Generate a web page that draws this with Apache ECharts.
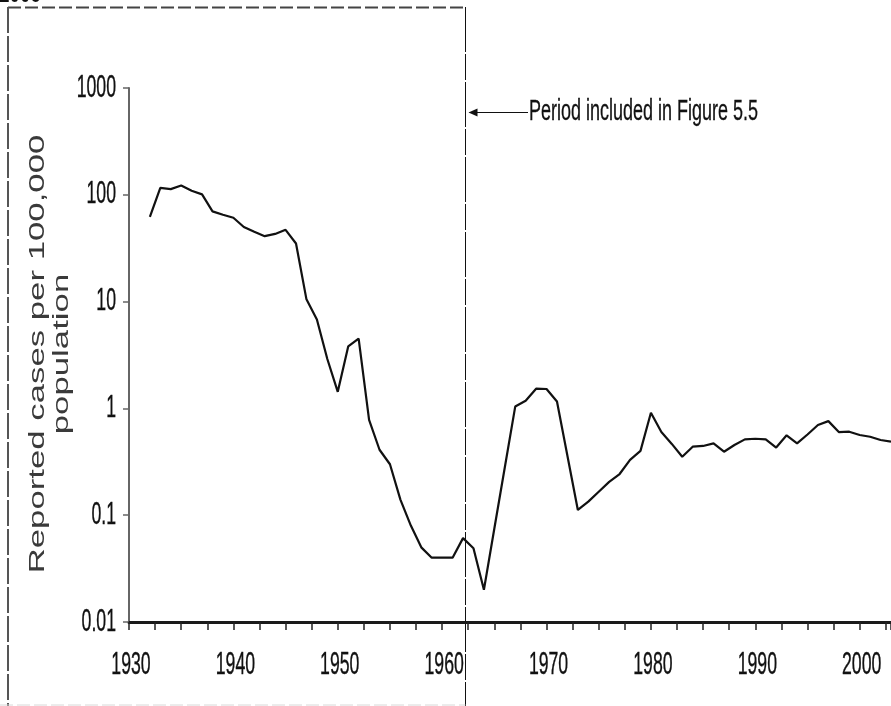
<!DOCTYPE html>
<html><head><meta charset="utf-8">
<script src="https://cdn.jsdelivr.net/npm/echarts@6/dist/echarts.min.js"></script>
<style>html,body{margin:0;padding:0;background:#fff;overflow:hidden}#c{width:891px;height:706px}</style>
</head><body><div id="c"></div>
<script>
// ---- data ----
const years = [1932,1933,1934,1935,1936,1937,1938,1939,1940,1941,1942,1943,1944,1945,1946,1947,1948,1949,1950,1951,1952,1953,1954,1955,1956,1957,1958,1959,1960,1961,1962,1963,1964,1965,1966,1967,1968,1969,1970,1971,1972,1973,1974,1975,1976,1977,1978,1979,1980,1981,1982,1983,1984,1985,1986,1987,1988,1989,1990,1991,1992,1993,1994,1995,1996,1997,1998,1999,2000,2001,2002,2003];
const cases = [62,116,113,122,109,101,70,65,61,50,45,41,43,47,35,10.5,6.8,2.9,1.43,3.8,4.5,0.78,0.41,0.30,0.14,0.08,0.05,0.04,0.04,0.04,0.061,0.049,0.020,0.075,0.28,1.04,1.18,1.53,1.52,1.16,0.36,0.112,0.134,0.166,0.205,0.243,0.33,0.40,0.91,0.60,0.465,0.353,0.438,0.445,0.47,0.393,0.454,0.513,0.52,0.513,0.43,0.56,0.47,0.57,0.70,0.76,0.60,0.605,0.564,0.543,0.506,0.488];
const xLabelValues = [1930,1940,1950,1960,1970,1980,1990,2000];
const xLabelTexts = ['1930','1940','1950','1960','1970','1980','1990','2000'];
const yLabelValues = [0.01,0.1,1,10,100,1000];
const yLabelTexts = ['0.01','0.1','1','10','100','1000'];
const axisTitleLines = ['Reported cases per 100,000','population'];
const annotationText = 'Period included in Figure 5.5';
const cornerText = '2005';
const periodEndYear = 1962.15;

const chart = echarts.init(document.getElementById('c'), null, {renderer:'canvas'});
const seriesData = years.map((y,i)=>[y,cases[i]]);
const FONT = "'Liberation Sans', Arial, sans-serif";

chart.setOption({
  animation:false,
  backgroundColor:'#ffffff',
  grid:{left:129,right:0,top:88,bottom:84,containLabel:false},
  xAxis:{type:'value',min:1930,max:2003,interval:2.5,
    axisLine:{show:true,lineStyle:{color:'#1a1a1a',width:3}},
    axisTick:{show:true,length:8,lineStyle:{color:'#222',width:1.5}},
    axisLabel:{show:false},splitLine:{show:false}},
  yAxis:{type:'log',logBase:10,min:0.01,max:1000,
    axisLine:{show:true,lineStyle:{color:'#666',width:2}},
    axisTick:{show:true,length:6,lineStyle:{color:'#666',width:1.5}},
    axisLabel:{show:false},splitLine:{show:false}},
  series:[{type:'line',data:seriesData,showSymbol:false,symbol:'none',
    lineStyle:{color:'#111',width:2.2},clip:true}]
});

const g = [];
const sx = 0.57;
xLabelValues.forEach((v,i)=>{
  const px = chart.convertToPixel({xAxisIndex:0}, v);
  g.push({type:'text',x:px+2,y:665,scaleX:sx,scaleY:1,
    style:{text:xLabelTexts[i],x:0,y:0,textAlign:'center',textVerticalAlign:'middle',font:'31px '+FONT,fill:'#111',stroke:'#111',lineWidth:0.4}});
});
yLabelValues.forEach((v,i)=>{
  const py = chart.convertToPixel({yAxisIndex:0}, v);
  g.push({type:'text',x:116,y:py,scaleX:sx,scaleY:1,
    style:{text:yLabelTexts[i],x:0,y:0,textAlign:'right',textVerticalAlign:'middle',font:'31px '+FONT,fill:'#111',stroke:'#111',lineWidth:0.4}});
});
// rotated axis title
g.push({type:'text',x:38,y:354,rotation:Math.PI/2,scaleX:1.58,scaleY:1,
  style:{text:axisTitleLines[0],x:0,y:0,textAlign:'center',textVerticalAlign:'middle',font:'22px '+FONT,fill:'#3a3a3a'}});
g.push({type:'text',x:62,y:354,rotation:Math.PI/2,scaleX:1.58,scaleY:1,
  style:{text:axisTitleLines[1],x:0,y:0,textAlign:'center',textVerticalAlign:'middle',font:'22px '+FONT,fill:'#3a3a3a'}});
// period box
const vx = Math.round(chart.convertToPixel({xAxisIndex:0}, periodEndYear))+0.5;
g.push({type:'line',shape:{x1:vx,y1:7,x2:vx,y2:706},style:{stroke:'#111',lineWidth:1,lineDash:[45,2,26,2]}});
g.push({type:'line',shape:{x1:8,y1:7.5,x2:vx,y2:7.5},style:{stroke:'#444',lineWidth:2,lineDash:[13,4]}});
g.push({type:'line',shape:{x1:8,y1:7,x2:8,y2:706},style:{stroke:'#555',lineWidth:2,lineDash:[26,3]}});
g.push({type:'line',shape:{x1:0,y1:705,x2:vx,y2:705},style:{stroke:'#d8d8d8',lineWidth:1,lineDash:[13,4]}});
// arrow + annotation
g.push({type:'line',shape:{x1:vx+4,y1:112.5,x2:528,y2:112.5},style:{stroke:'#111',lineWidth:1}});
g.push({type:'polygon',shape:{points:[[vx+3,112.5],[vx+12,108.5],[vx+12,116.5]]},style:{fill:'#111'}});
g.push({type:'text',x:529,y:112,scaleX:0.62,scaleY:1,
  style:{text:annotationText,x:0,y:0,textAlign:'left',textVerticalAlign:'middle',font:'29px '+FONT,fill:'#111',stroke:'#111',lineWidth:0.3}});
// corner text (cut off at top)
g.push({type:'text',x:-1,y:-6,scaleX:0.63,scaleY:1,
  style:{text:cornerText,x:0,y:0,textAlign:'left',textVerticalAlign:'middle',font:'bold 30px '+FONT,fill:'#111'}});

chart.setOption({graphic:g});
</script></body></html>
